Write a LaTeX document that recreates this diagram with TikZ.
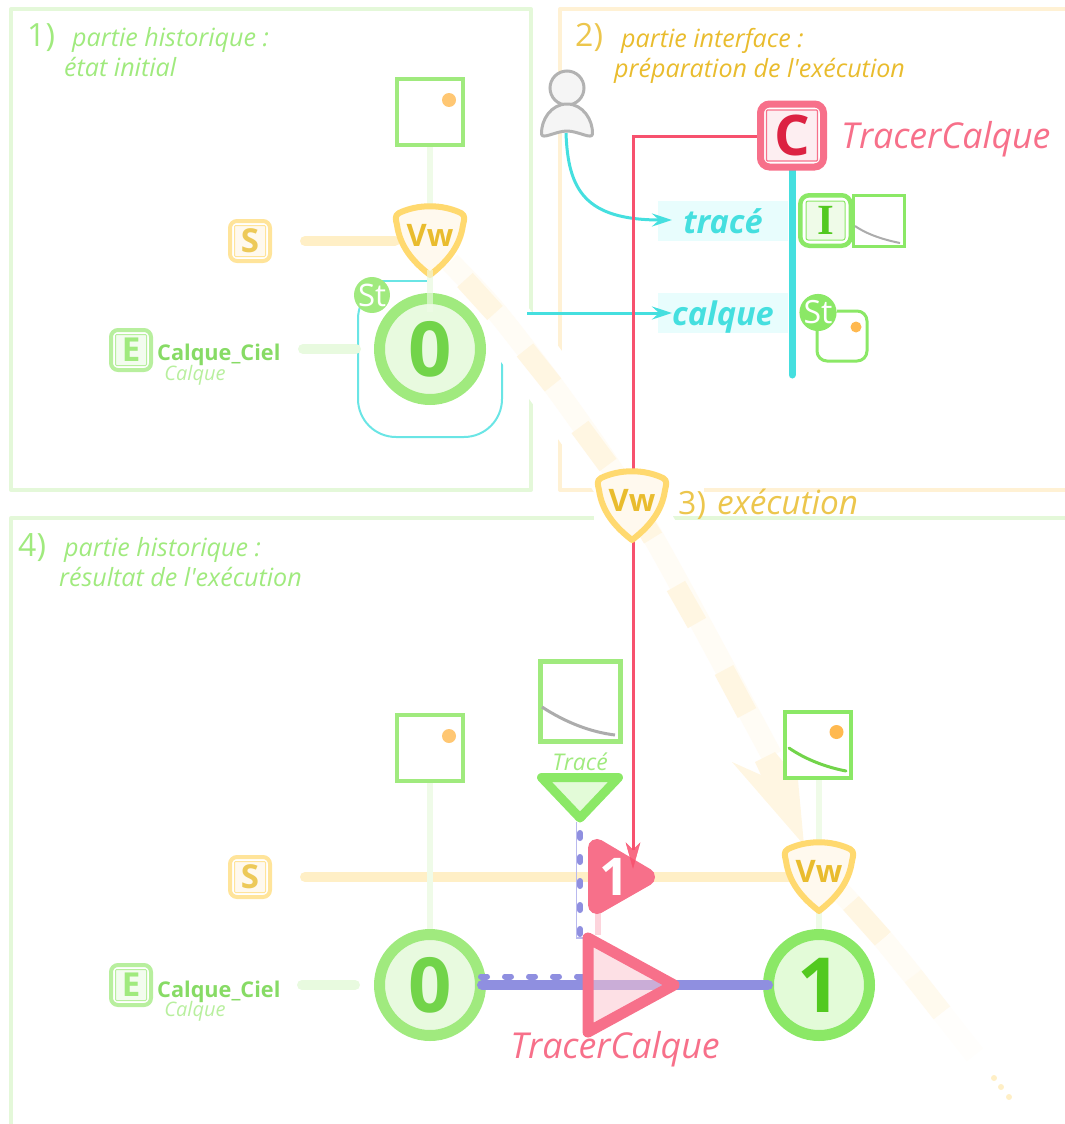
\documentclass[tikz,border=0pt]{standalone}
\usepackage{fontspec}
\setmainfont{Open Sans}
\newfontfamily\serifB{Liberation Serif}
\usetikzlibrary{arrows.meta}
\definecolor{gA}{HTML}{A0EA7E}
\definecolor{gB}{HTML}{8BE866}
\definecolor{gC}{HTML}{72D44A}
\definecolor{gD}{HTML}{52C91F}
\definecolor{gFrame}{HTML}{E4F8D9}
\definecolor{gFill}{HTML}{E8FADF}
\definecolor{gFillB}{HTML}{E3FBD8}
\definecolor{gLine}{HTML}{EFFBE8}
\definecolor{oFrame}{HTML}{FFF1D4}
\definecolor{oStroke}{HTML}{FFD96F}
\definecolor{oText}{HTML}{E9BC2E}
\definecolor{oFill}{HTML}{FFF9EE}
\definecolor{oLine}{HTML}{FFEFC6}
\definecolor{oDot}{HTML}{FFB950}
\definecolor{bDark}{HTML}{FFF6E2}
\definecolor{bLight}{HTML}{FFFCF5}
\definecolor{bFade}{HTML}{FFFAEE}
\definecolor{cy}{HTML}{45DFDF}
\definecolor{cyBg}{HTML}{E8FDFD}
\definecolor{rS}{HTML}{F7708A}
\definecolor{rL}{HTML}{F7516E}
\definecolor{rT}{HTML}{DC2242}
\definecolor{rF}{HTML}{FDEEF1}
\definecolor{vi}{HTML}{8F8FE0}
\definecolor{viL}{HTML}{B9B9EE}
\tikzset{
 frameline/.style={line width=4pt,line join=round},
 num/.style={font=\fontsize{32}{32}\selectfont,anchor=base west,inner sep=0pt},
 ital/.style={font=\fontsize{25.1}{25.1}\selectfont\itshape,anchor=base west,inner sep=0pt},
 halfline/.style={line width=6pt,gLine},
 orangeline/.style={line width=10pt,oLine,line cap=round},
 greenline/.style={line width=10pt,gFill,line cap=round},
 stateC/.style={circle,line width=11pt,minimum size=101pt,inner sep=0pt,font=\fontsize{76}{76}\selectfont\bfseries},
 sq/.style={draw,line width=4pt,minimum size=66pt,inner sep=0pt,fill=white},
 dotn/.style={circle,fill=oDot,minimum size=14pt,inner sep=0pt},
 lbl/.style={fill=cyBg,minimum width=130pt,minimum height=40pt,inner sep=0pt,text height=24pt,text depth=0pt,text=cy,font=\fontsize{32.5}{32.5}\selectfont\bfseries\itshape},
 letter/.style={draw,rounded corners=7pt,line width=4pt,minimum size=40pt,inner sep=0pt},
 cyarrow/.style={cy,line width=3pt,-{Stealth[length=20pt,width=13pt,inset=7pt]}},
 gtext/.style={font=\fontsize{21.7}{21.7}\selectfont\bfseries,text=gC!85,inner sep=0pt,anchor=base west},
 calq/.style={font=\fontsize{20}{20}\selectfont\itshape,text=gA!75,inner sep=0pt},
 vwt/.style={text=oText,inner sep=0pt,font=\fontsize{31}{31}\selectfont\bfseries},
 band/.style={line width=21pt,line cap=butt},
 tracer/.style={text=rS,inner sep=0pt,font=\fontsize{35.7}{35.7}\selectfont\itshape},
}
\newcommand{\vwshield}[3]{%
 \draw[shift={(#2,#3)},line width=6pt,draw=oStroke,fill=oFill,line join=round]
  (-31,-27) .. controls (-12,-36) and (12,-36) .. (31,-27)
  .. controls (36,-24) and (34,-20) .. (33,-15)
  .. controls (30,6) and (18,21) .. (0,35)
  .. controls (-18,21) and (-30,6) .. (-33,-15)
  .. controls (-34,-20) and (-36,-24) .. cycle;
 \node[vwt] (#1) at (#2,#3-5) {Vw};}
\newcommand{\letterbox}[7]{% name x y letter stroke text fill
 \node[letter,draw=#5,fill=white] (#1) at (#2,#3) {};
 \draw[#5,fill=#7,line width=1pt,rounded corners=1pt] (#2-15.5,#3-15.5) rectangle (#2+15.5,#3+15.5);
 \node[text=#6,inner sep=0pt,font=\fontsize{33}{33}\selectfont\bfseries] at (#2,#3) {#4};}
\begin{document}
\begin{tikzpicture}[x=1pt,y=-1pt]
\useasboundingbox (0,0) rectangle (1065,1124);
\clip (0,0) rectangle (1065,1124);
% frames
\draw[frameline,gFrame] (11,9) rectangle (531,490);
\draw[frameline,oFrame] (560,9) rectangle (1085,490);
\draw[frameline,gFrame] (11,518) rectangle (1085,1150);
% cyan state box 1
\draw[cy!80,line width=2pt,rounded corners=38pt] (358,281) rectangle (502,437);
\draw[white,line width=18pt] (440,281) -- (358,281);
\draw[cy!80,line width=2pt] (376,281) -- (436,281);
% halo and band
\draw[white,line width=55pt] plot[smooth] coordinates {(445,255) (495,310) (553,385) (608,463) (652,535) (700,622) (750,715) (790,790)};
\draw[white,line width=55pt] (840,890) -- (883,939) -- (942,1013);
\node[inner sep=0pt,fill=white,minimum width=76pt,minimum height=60pt] (wh) at (632,505) {};
\node[inner sep=0pt,fill=white,minimum width=40pt,minimum height=10pt] (wh2) at (684,490) {};
\draw[band,bLight] plot[smooth] coordinates {(450,262) (495,310) (553,385) (608,463) (652,535) (700,622) (750,715) (772,756)};
\foreach \a/\b/\c/\d in {465/280/495/313,525/350/553/385,580/427/608/465,637/512/653/538,676/586/697/623,724/670/747/713}{
 \draw[band,bDark] (\a,\b) -- (\c,\d);}
\fill[bDark] (732,762) -- (761,775) -- (755,762) -- (775,752) -- (798,780) -- (804,845) -- cycle;
\draw[band,bLight] (835,886) -- (851,903);
\draw[band,bDark] (851,903) -- (883,939);
\draw[band,bLight] (883,939) -- (913,976);
\draw[band,bFade] (913,976) -- (942,1013);
\draw[band,white!70!bLight] (942,1013) -- (975,1055);
\fill[oLine] (994,1078) circle (3) (1001,1087) circle (3) (1009,1097) circle (3);
% panel 1 text
\node[num,text=gA] (t1) at (27,47) {1)};
\node[ital,text=gA] (t1a) at (72,47) {partie historique :};
\node[ital,text=gA] (t1b) at (64,77) {état initial};
\node[num,text=oText!85] (t2) at (575,47) {2)};
\node[ital,text=oText] (t2a) at (621,47.5) {partie interface :};
\node[ital,text=oText] (t2b) at (614,77.5) {préparation de l\textquotesingle exécution};
\node[num,text=gA] (t4) at (18,556) {4)};
\node[ital,text=gA] (t4a) at (64,556) {partie historique :};
\node[ital,text=gA] (t4b) at (59,586) {résultat de l\textquotesingle exécution};
% state 1
\draw[orangeline] (305,241) -- (395,241);
\draw[greenline] (303,349) -- (356,349);
\draw[halfline] (430,145) -- (430,300);
\node[sq,draw=gA] (sq1) at (430,112) {};
\node[dotn,fill=oDot!80] (d1) at (449,100) {};
\vwshield{vw1}{430}{240}
\node[stateC,draw=gA,fill=gFill,text=gC] (c0a) at (430,349) {0};
\draw[halfline,opacity=.6] (430,270) -- (430,312);
\node[circle,fill=gA,minimum size=31pt,inner sep=0pt,text=white,font=\fontsize{31}{31}\selectfont] (st1) at (372,295) {St};
\letterbox{s1}{250}{241}{S}{oStroke!70}{oText!80}{oFill}
\letterbox{e1}{131}{350}{E}{gA!75}{gA}{gFill!50}
\node[gtext] (n1) at (157,360) {Calque\_Ciel};
\node[calq] (n1b) at (195,375) {Calque};
% panel 2
\node[lbl] (trace) at (723,221) {tracé};
\node[lbl] (calque) at (723,313) {calque};
\coordinate (a2) at (527,313);
\draw[cyarrow] (a2) -- (672,313);
\coordinate (u) at (566,133);
\draw[cyarrow] (u) .. controls (568,190) and (585,220) .. (672,220);
\draw[rL,line width=3pt] (757,136) -- (633,136) -- (633,480);
\draw[cy,line width=7pt,line cap=round] (792,165) -- (792,375);
\draw[line width=3pt,draw=gray!60,fill=gray!8] (567,88) circle (17);
\draw[line width=3pt,draw=gray!60,fill=gray!8,line join=round] (567,104) .. controls (583,104) and (593,120) .. (592.5,134) .. controls (592,140) and (578,131) .. (567,131) .. controls (556,131) and (542,140) .. (541.5,134) .. controls (541,120) and (551,104) .. (567,104) -- cycle;
% C box
\node[draw=rS,fill=white,line width=7pt,rounded corners=9pt,minimum size=63pt,inner sep=0pt] (cb) at (792,135.5) {};
\draw[rS,fill=rF,line width=1.2pt,rounded corners=1pt] (766.5,110) rectangle (817.5,161);
\node[text=rT,inner sep=0pt,font=\fontsize{56}{56}\selectfont\bfseries] at (792,135.5) {C};
\node[tracer,anchor=west] (tc1) at (841,139.5) {TracerCalque};
% I box
\node[draw=gB,fill=white,line width=4.5pt,rounded corners=9pt,minimum size=50.5pt,inner sep=0pt] (ib) at (825.5,220.5) {};
\draw[gB,fill=gLine,line width=1pt,rounded corners=2pt] (806,201) rectangle (845,240);
\node[text=gD,inner sep=0pt,font=\fontsize{43}{43}\selectfont\serifB\bfseries] at (825.5,220) {I};
\node[draw=gB,fill=white,line width=3pt,minimum size=51pt,inner sep=0pt] (isq) at (879,221) {};
\draw[gray!65,line width=2pt] (855,226) .. controls (868,235) and (885,240) .. (900,243);
% St 2
\draw[gB,line width=3pt,rounded corners=10pt] (817,311) rectangle (867,361);
\node[circle,fill=white,minimum size=38pt,inner sep=0pt] (w2) at (818,308) {};
\node[circle,fill=gB,minimum size=33pt,inner sep=0pt,text=white,font=\fontsize{32}{32}\selectfont] (st2) at (818,312.5) {St};
\node[dotn,minimum size=11pt,fill=oDot] (d2) at (856,327) {};
% 3) execution
\node[inner sep=0pt,anchor=base west,text=oText!85,font=\fontsize{32}{32}\selectfont] (t3) at (678,514) {3)};
\node[inner sep=0pt,anchor=base west,text=oText!85,font=\fontsize{33.3}{33.3}\selectfont\itshape] (t3b) at (717,514) {exécution};
% lower
\draw[orangeline] (305,877) -- (790,877);
\draw[greenline] (302,985) -- (355,985);
\draw[halfline] (430,781) -- (430,935);
\draw[halfline] (819,778) -- (819,935);
\node[sq,draw=gA] (sq2) at (430,748) {};
\node[dotn,fill=oDot!80] (d3) at (449,736) {};
\node[stateC,draw=gA,fill=gFill,text=gC] (c0b) at (430,985) {0};
\node[stateC,draw=gB,fill=gFillB,text=gD] (c1) at (819,985) {1};
\letterbox{s2}{250}{877}{S}{oStroke!70}{oText!80}{oFill}
\letterbox{e2}{131}{985}{E}{gA!75}{gA}{gFill!50}
\node[gtext] (n2) at (157,997) {Calque\_Ciel};
\node[calq] (n2b) at (195,1011) {Calque};
\node[sq,draw=gA,line width=5pt,minimum size=80pt] (sq3) at (580,701) {};
\draw[gray!65,line width=3pt] (542,707) .. controls (565,722) and (590,732) .. (615,735);
\node[calq,text=gA,font=\fontsize{23}{23}\selectfont\itshape] (tr) at (580,762) {Tracé};
\node[sq,draw=gB] (sq4) at (818,745) {};
\node[dotn,fill=oDot] (d4) at (836.5,732) {};
\draw[gC,line width=3pt,line cap=round] (789,748) .. controls (805,759) and (825,767) .. (846,771);
\vwshield{vw3}{819}{876}
% operation connections
\draw[rS!30,line width=6pt] (598,905) -- (598,935);
\draw[viL,line width=1.5pt] (576.5,822) -- (576.5,938) -- (587,938);
\draw[vi,line width=6pt,line cap=round,dash pattern=on 5pt off 19pt] (580,833) -- (580,938);
\draw[vi,line width=10pt,line cap=round] (482,985) -- (768,985);
\draw[vi,line width=6pt,line cap=round,dash pattern=on 6pt off 18pt] (481,976.5) -- (584,976.5);
% triangles
\draw[gB,fill=gFillB,line width=9pt,line join=round] (541.5,777.5) -- (618.5,777.5) -- (580,818) -- cycle;
\draw[fill=rS,draw=rS,line width=18pt,line join=round] (597,848) -- (646,877) -- (597,905) -- cycle;
\node[text=white,inner sep=0pt,font=\fontsize{52}{52}\selectfont\bfseries] (n1t) at (614,877) {1};
\draw[draw=rS,fill=rS!40,fill opacity=.55,line width=11pt,line join=round] (588,938) -- (674,985) -- (588,1032) -- cycle;
\node[tracer] (tc2) at (615,1049) {TracerCalque};
% red arrow & Vw 2
\draw[rL,line width=3pt] (633,530) -- (633,850);
\draw[rL,opacity=.85,fill=rL] (633,868) -- (626,843) -- (633,850) -- (640,843) -- cycle;
\vwshield{vw2}{632}{505}
\end{tikzpicture}
\end{document}
